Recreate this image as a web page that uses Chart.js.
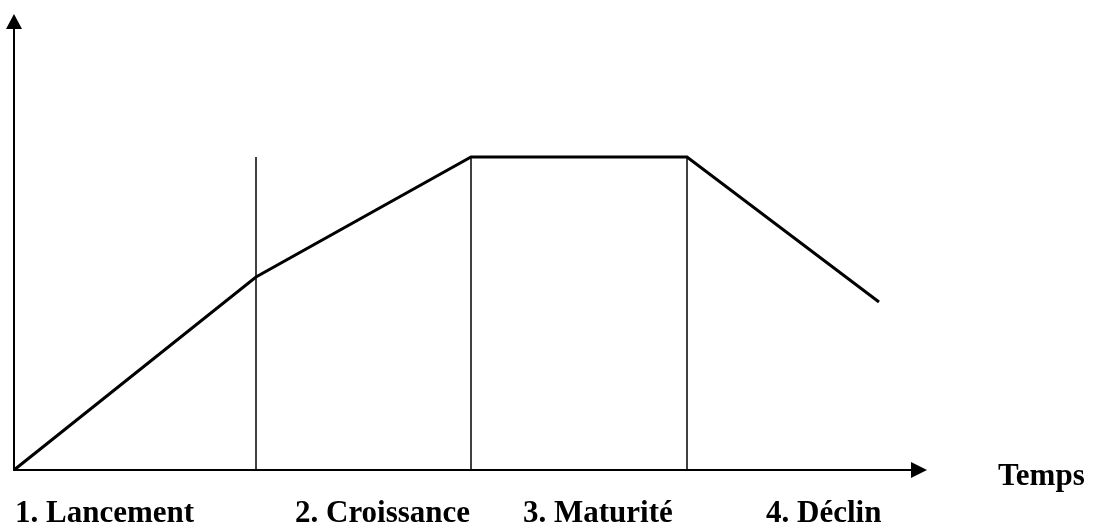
<!DOCTYPE html>
<html>
<head>
<meta charset="utf-8">
<script src="https://cdn.jsdelivr.net/npm/chart.js@4/dist/chart.umd.min.js"></script>
<style>
  html, body { margin: 0; padding: 0; background: #fff; }
  #wrap { width: 1093px; height: 528px; }
</style>
</head>
<body>
<div id="wrap"><canvas id="c" width="1093" height="528"></canvas></div>
<script>
// Product life cycle curve (time vs sales, arbitrary units)
const timeValues = [0, 2.42, 4.57, 6.73, 8.65];
const salesValues = [0, 1.93, 3.13, 3.13, 1.68];
// Phase boundaries (vertical separators) and their top
const phaseBoundaries = [2.42, 4.57, 6.73];
const boundaryTop = 3.13;
// Phase labels and their starting position on the time axis
const phaseLabels = ['1. Lancement', '2. Croissance', '3. Maturité', '4. Déclin'];
const phaseLabelStart = [0.01, 2.81, 5.09, 7.52];
const axisTitle = 'Temps';
const axisTitleStart = 9.84;
const xMax = 9.13;
const yMax = 4.56;

const FONT = 'bold 31px "Liberation Serif", "Times New Roman", serif';

const datasets = [{
  data: timeValues.map((t, i) => ({ x: t, y: salesValues[i] })),
  borderColor: '#000',
  borderWidth: 3,
  pointRadius: 0,
  tension: 0,
  clip: false,
  borderJoinStyle: 'miter'
}];
phaseBoundaries.forEach(b => {
  datasets.push({
    data: [{ x: b, y: 0 }, { x: b, y: boundaryTop }],
    borderColor: '#000',
    borderWidth: 1.5,
    pointRadius: 0,
    clip: false
  });
});

const axesPlugin = {
  id: 'axesArrows',
  afterDatasetsDraw(chart) {
    const ctx = chart.ctx;
    const xs = chart.scales.x, ys = chart.scales.y;
    const x0 = xs.getPixelForValue(0), y0 = ys.getPixelForValue(0);
    const xEnd = xs.getPixelForValue(xMax), yEnd = ys.getPixelForValue(yMax);
    ctx.save();
    ctx.strokeStyle = '#000';
    ctx.fillStyle = '#000';
    ctx.lineWidth = 2;
    // y axis
    ctx.beginPath();
    ctx.moveTo(x0, y0);
    ctx.lineTo(x0, yEnd + 15);
    ctx.stroke();
    ctx.beginPath();
    ctx.moveTo(x0, yEnd);
    ctx.lineTo(x0 - 8, yEnd + 15);
    ctx.lineTo(x0 + 8, yEnd + 15);
    ctx.closePath();
    ctx.fill();
    // x axis
    ctx.beginPath();
    ctx.moveTo(x0 - 1, y0);
    ctx.lineTo(xEnd - 16, y0);
    ctx.stroke();
    ctx.beginPath();
    ctx.moveTo(xEnd, y0);
    ctx.lineTo(xEnd - 16, y0 - 8);
    ctx.lineTo(xEnd - 16, y0 + 8);
    ctx.closePath();
    ctx.fill();
    // texts
    ctx.font = FONT;
    ctx.textAlign = 'left';
    ctx.textBaseline = 'alphabetic';
    phaseLabels.forEach((lab, i) => {
      ctx.fillText(lab, xs.getPixelForValue(phaseLabelStart[i]), y0 + 52);
    });
    ctx.fillText(axisTitle, xs.getPixelForValue(axisTitleStart), y0 + 15);
    ctx.restore();
  }
};

new Chart(document.getElementById('c'), {
  type: 'line',
  data: { datasets },
  options: {
    responsive: false,
    animation: false,
    layout: { padding: { left: 14, right: 166, top: 14, bottom: 58 } },
    plugins: { legend: { display: false }, tooltip: { enabled: false } },
    scales: {
      x: { type: 'linear', min: 0, max: xMax, display: false },
      y: { type: 'linear', min: 0, max: yMax, display: false }
    }
  },
  plugins: [axesPlugin]
});
</script>
</body>
</html>
